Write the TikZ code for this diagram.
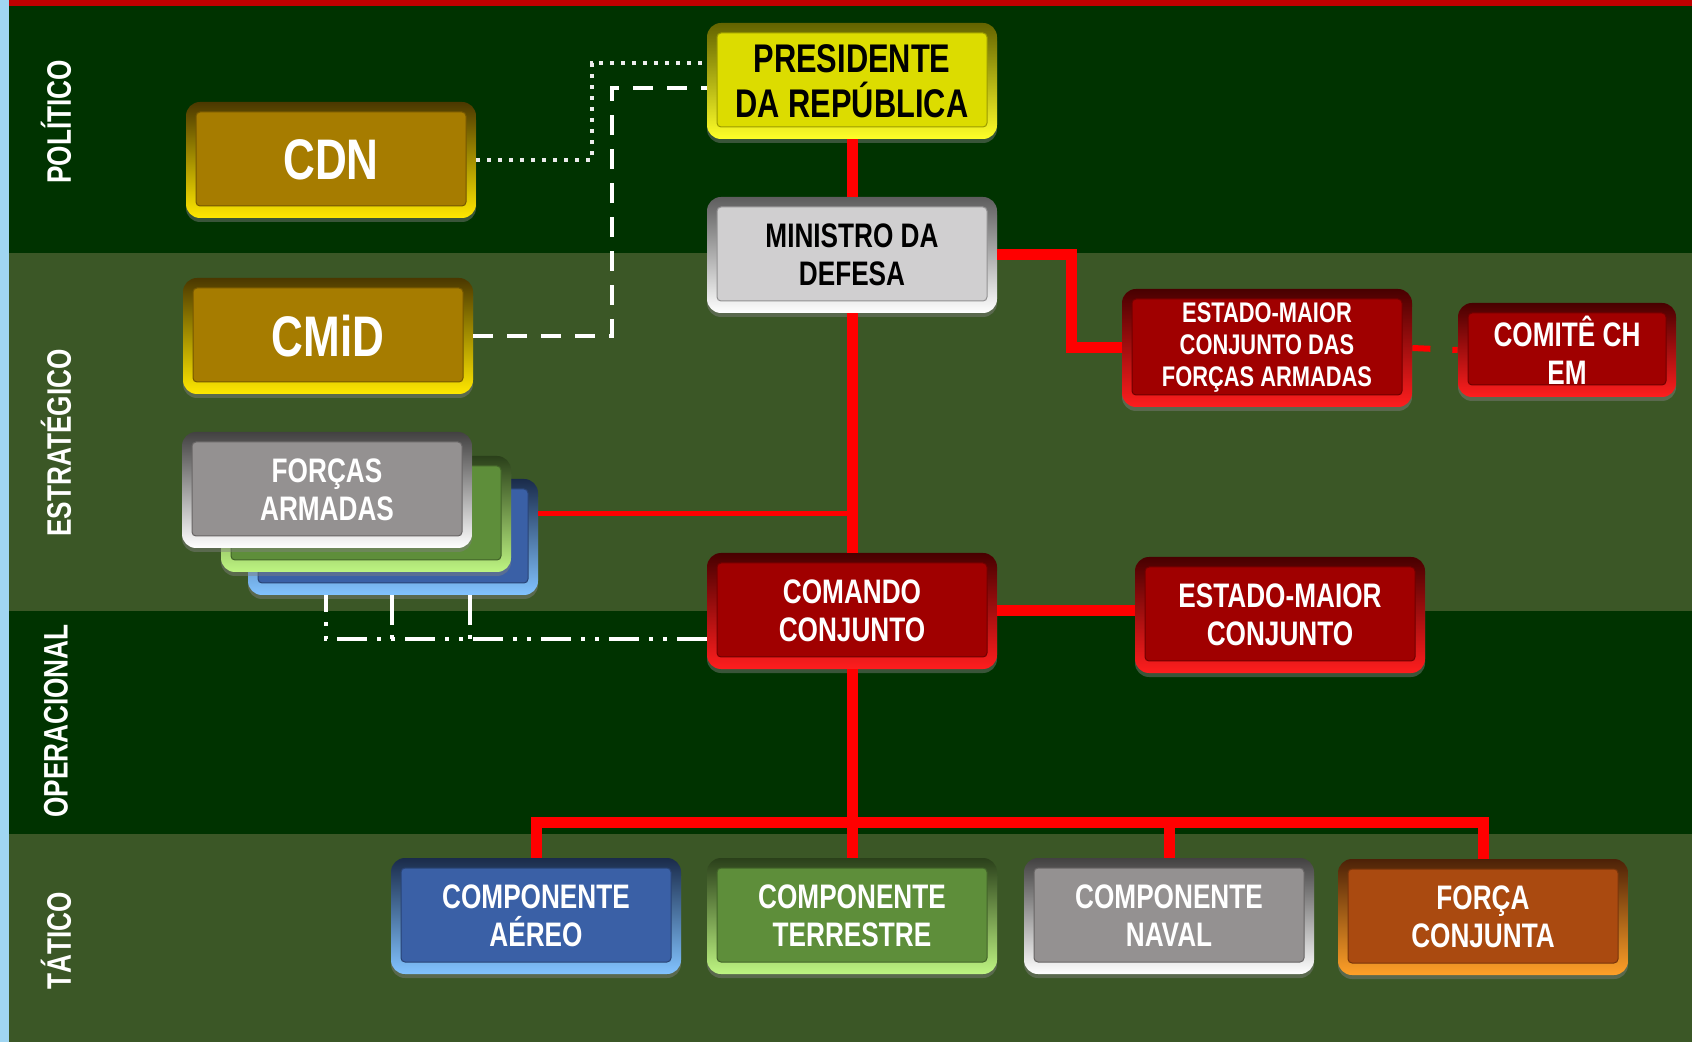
\documentclass[tikz,border=0pt]{standalone}
\usepackage{fontspec}
\setmainfont{Liberation Sans}[FakeStretch=0.77]
\usetikzlibrary{calc, shadows}

\definecolor{darkband}{RGB}{0,51,0}
\definecolor{lightband}{RGB}{59,87,38}
\definecolor{topred}{RGB}{192,0,0}
\definecolor{skyblue}{RGB}{160,214,242}
\definecolor{linered}{RGB}{255,0,0}
\definecolor{goldin}{RGB}{166,124,0}
\definecolor{goldrim}{RGB}{255,232,0}
\definecolor{yelin}{RGB}{220,220,0}
\definecolor{yelrim}{RGB}{255,255,40}
\definecolor{lgrayin}{RGB}{208,207,208}
\definecolor{grayin}{RGB}{148,145,145}
\definecolor{greenin}{RGB}{94,142,58}
\definecolor{greenrim}{RGB}{190,245,130}
\definecolor{bluein}{RGB}{58,96,166}
\definecolor{bluerim}{RGB}{130,195,255}
\definecolor{redin}{RGB}{160,0,0}
\definecolor{redrim}{RGB}{255,30,30}
\definecolor{orangein}{RGB}{170,74,16}
\definecolor{orangerim}{RGB}{255,160,40}

\tikzset{
  orgbox/.style 2 args={rounded corners=7pt, minimum width=145pt, minimum height=58pt,
    inner sep=0pt, align=center, text=white, font=\bfseries\fontsize{17}{19}\selectfont,
    top color=#1!45!black, bottom color=#2,
    drop shadow={opacity=0.45, shadow xshift=0pt, shadow yshift=-2pt},
    path picture={\fill[#1, draw=#1!70!black, line width=0.5pt, rounded corners=2pt]
      ($(path picture bounding box.north west)+(5pt,-5pt)$) rectangle
      ($(path picture bounding box.south east)+(-5pt,6pt)$);}},
  redline/.style={draw=linered, line width=5.5pt},
  dotline/.style={draw=gray!15, line width=2pt, dash pattern=on 2pt off 3.5pt},
  dashline/.style={draw=white, line width=2pt, dash pattern=on 10pt off 7pt},
  dotdashline/.style={draw=white, line width=2pt,
    dash pattern=on 15pt off 5pt on 2pt off 5pt on 2pt off 5pt},
  bandlabel/.style={rotate=90, text=white, font=\bfseries\fontsize{17}{19}\selectfont}
}

\begin{document}
\begin{tikzpicture}[x=0.5pt, y=-0.5pt]
  \useasboundingbox (0,0) rectangle (1692,1042);

  % Background bands
  \fill[skyblue] (0,0) rectangle (1692,1042);
  \fill[darkband] (9,0) rectangle (1692,253);
  \fill[lightband] (9,253) rectangle (1692,611);
  \fill[darkband] (9,611) rectangle (1692,834);
  \fill[lightband] (9,834) rectangle (1692,1042);
  \fill[topred] (9,0) rectangle (1692,6);

  % Level labels
  \node[bandlabel] (pol) at (56,122) {POLÍTICO};
  \node[bandlabel] (est) at (56,443) {ESTRATÉGICO};
  \node[bandlabel] (ope) at (56,721) {OPERACIONAL};
  \node[bandlabel] (tat) at (56,941) {TÁTICO};

  % Forcas Armadas stack, back to front
  \node[orgbox={bluein}{bluerim}] (fab) at (393,537) {};
  \node[orgbox={greenin}{greenrim}] (fag) at (366,514) {};
  \node[orgbox={grayin}{white}] (fa) at (327,490) {FORÇAS\\ARMADAS};

  % Political and strategic boxes
  \node[orgbox={yelin}{yelrim}, text=black, font=\bfseries\fontsize{20}{22.5}\selectfont]
    (pr) at (852,81) {PRESIDENTE\\DA REPÚBLICA};
  \node[orgbox={goldin}{goldrim}, font=\bfseries\fontsize{28.6}{30}\selectfont]
    (cdn) at (331,160) {CDN};
  \node[orgbox={goldin}{goldrim}, font=\bfseries\fontsize{28.6}{30}\selectfont]
    (cmid) at (328,336) {CMiD};
  \node[orgbox={lgrayin}{white}, text=black] (md) at (852,255) {MINISTRO DA\\DEFESA};
  \node[orgbox={redin}{redrim}, minimum height=59pt, font=\bfseries\fontsize{14.2}{16}\selectfont]
    (emcfa) at (1267,348) {ESTADO-MAIOR\\CONJUNTO DAS\\FORÇAS ARMADAS};
  \node[orgbox={redin}{redrim}, minimum width=109pt, minimum height=47pt]
    (cch) at (1567,350) {COMITÊ CH\\EM};

  % Operational and tactical boxes
  \node[orgbox={redin}{redrim}] (cc) at (852,611) {COMANDO\\CONJUNTO};
  \node[orgbox={redin}{redrim}] (emc) at (1280,615) {ESTADO-MAIOR\\CONJUNTO};
  \node[orgbox={bluein}{bluerim}] (aer) at (536,916) {COMPONENTE\\AÉREO};
  \node[orgbox={greenin}{greenrim}] (ter) at (852,916) {COMPONENTE\\TERRESTRE};
  \node[orgbox={grayin}{white}] (nav) at (1169,916) {COMPONENTE\\NAVAL};
  \node[orgbox={orangein}{orangerim}] (fc) at (1483,917) {FORÇA\\CONJUNTA};

  % Red links
  \coordinate (jog) at (1071,300);
  \coordinate (bus) at (852,822);
  \draw[redline] (pr.south) -- (md.north);
  \draw[redline] (md.south) -- (cc.north);
  \draw[redline] (md.east) -| (jog) |- (emcfa.west);
  \draw[redline, line width=3pt, dash pattern=on 9pt off 11pt] (emcfa.east) -- (cch.west);
  \draw[redline, line width=2.5pt] (fab.east |- fag.east) -- (md.south |- fag.east);
  \draw[redline] (cc.east) -- (cc.east -| emc.west);
  \draw[redline] (cc.south) -- (ter.north);
  \draw[redline] (aer.north) |- (bus) -| (fc.north);
  \draw[redline] (nav.north) -- (nav.north |- bus);

  % Council links
  \coordinate (dotc) at (592,63);
  \coordinate (dashc) at (612,88);
  \draw[dotline] (cdn.east) -| (dotc) -- (dotc -| pr.west);
  \draw[dashline] (cmid.east) -| (dashc) -- (dashc -| pr.west);

  % Forcas Armadas link to Comando Conjunto
  \coordinate (fal) at (326,639);
  \draw[dotdashline] (cc.west |- fal) -- (fal) -- (fal |- fab.south);
  \foreach \x in {392,470}
    \draw[dotdashline] (fab.south -| \x,0) -- (\x,639);

\end{tikzpicture}
\end{document}
